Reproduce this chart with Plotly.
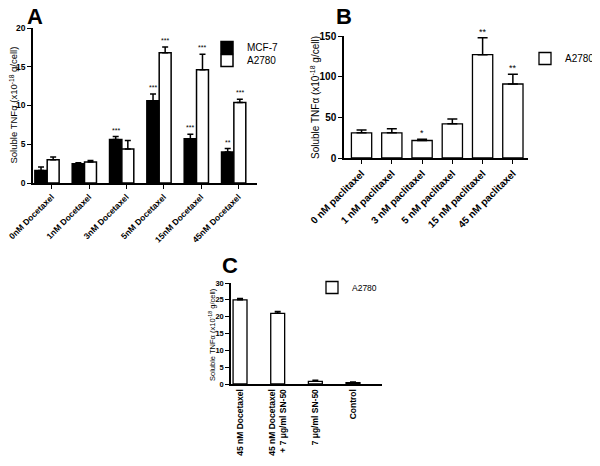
import plotly.graph_objects as go

# Panel A: docetaxel, two cell lines
a_labels = ["0nM Docetaxel", "1nM Docetaxel", "3nM Docetaxel",
            "5nM Docetaxel", "15nM Docetaxel", "45nM Docetaxel"]
mcf7_vals = [1.6, 2.5, 5.6, 10.6, 5.7, 4.0]
mcf7_err = [0.45, 0.1, 0.4, 0.9, 0.6, 0.45]
mcf7_sig = ["", "", "***", "***", "***", "**"]
a2780_a_vals = [3.0, 2.7, 4.4, 16.8, 14.6, 10.4]
a2780_a_err = [0.35, 0.2, 1.1, 0.75, 2.0, 0.4]
a2780_a_sig = ["", "", "", "***", "***", "***"]

# Panel B: paclitaxel, A2780
b_labels = ["0 nM paclitaxel", "1 nM paclitaxel", "3 nM paclitaxel",
            "5 nM paclitaxel", "15 nM paclitaxel", "45 nM paclitaxel"]
b_vals = [31, 31, 21.5, 42, 127, 91]
b_err = [3.5, 5, 1.5, 6, 21, 12]
b_sig = ["", "", "*", "", "**", "**"]

# Panel C: SN-50, A2780
c_labels = ["45 nM Docetaxel", "45 nM Docetaxel<br>+ 7 μg/ml SN-50",
            "7 μg/ml SN-50", "Control"]
c_vals = [25.0, 21.0, 0.8, 0.4]
c_err = [0.4, 0.5, 0.3, 0.2]

FONT = "Arial, Liberation Sans, sans-serif"
# the page body keeps its default 8px margin, so the figure sits at (8, 8)
OFF = 8
W, H = 600 - OFF, 466 - OFF


def px_x(p):
    return (p - OFF) / W


def px_y(p):
    return 1 - (p - OFF) / H


def err_bar(arr, thick, cap):
    return dict(type="data", array=arr, arrayminus=[0] * len(arr), symmetric=False,
                color="black", thickness=thick, width=cap)


fig = go.Figure()

xa = list(range(len(a_labels)))
fig.add_trace(go.Bar(
    x=xa, y=mcf7_vals, name="MCF-7", offset=-0.45, width=0.33,
    marker=dict(color="black", line=dict(color="black", width=1.5)),
    error_y=err_bar(mcf7_err, 1.5, 3), xaxis="x", yaxis="y", legend="legend",
))
fig.add_trace(go.Bar(
    x=xa, y=a2780_a_vals, name="A2780", offset=-0.12, width=0.32,
    marker=dict(color="white", line=dict(color="black", width=1.5)),
    error_y=err_bar(a2780_a_err, 1.5, 3), xaxis="x", yaxis="y", legend="legend4",
))

xb = list(range(len(b_labels)))
fig.add_trace(go.Bar(
    x=xb, y=b_vals, name="A2780", width=0.67,
    marker=dict(color="white", line=dict(color="black", width=1.3)),
    error_y=err_bar(b_err, 1.5, 5), xaxis="x2", yaxis="y2", legend="legend2",
))

xc = list(range(len(c_labels)))
fig.add_trace(go.Bar(
    x=xc, y=c_vals, name="A2780", width=0.37,
    marker=dict(color="white", line=dict(color="black", width=1.3)),
    error_y=err_bar(c_err, 1.5, 3), xaxis="x3", yaxis="y3", legend="legend3",
))

# significance marks
for i, s in enumerate(mcf7_sig):
    if s:
        fig.add_annotation(x=i - 0.285, y=mcf7_vals[i] + mcf7_err[i], text=s,
                           xref="x", yref="y", yanchor="bottom", showarrow=False,
                           font=dict(size=7, family=FONT), yshift=1)
for i, s in enumerate(a2780_a_sig):
    if s:
        fig.add_annotation(x=i + 0.04, y=a2780_a_vals[i] + a2780_a_err[i], text=s,
                           xref="x", yref="y", yanchor="bottom", showarrow=False,
                           font=dict(size=7, family=FONT), yshift=1)
for i, s in enumerate(b_sig):
    if s:
        fig.add_annotation(x=i, y=b_vals[i] + b_err[i], text=s,
                           xref="x2", yref="y2", yanchor="bottom", showarrow=False,
                           font=dict(size=9, family=FONT), yshift=-1)

# panel letters
for letter, x, y in [("A", 35, 17), ("B", 344, 17), ("C", 230, 265)]:
    fig.add_annotation(x=px_x(x), y=px_y(y), text="<b>%s</b>" % letter, xref="paper",
                       yref="paper", xanchor="center", yanchor="middle", showarrow=False,
                       font=dict(size=22, family=FONT))

# y axis titles, placed as rotated text
ytitle = "Soluble TNFα (x10<sup>-18</sup> g/cell)"
for x, y, size in [(13.5, 105, 9.5), (315, 97, 10), (212, 335, 7.5)]:
    fig.add_annotation(x=px_x(x), y=px_y(y), text=ytitle, textangle=-90, xref="paper",
                       yref="paper", xanchor="center", yanchor="middle", showarrow=False,
                       font=dict(size=size, family=FONT))

tick_font = dict(size=8.5, family=FONT, color="black", weight="bold")
b_tick_font = {**tick_font, "size": 10}
axis_common = dict(showline=True, linecolor="black", linewidth=1.5, ticks="outside",
                   ticklen=4, tickwidth=1.2, tickcolor="black", showgrid=False,
                   zeroline=False, automargin=False, ticklabeloverflow="allow",
                   tickfont=tick_font)
leg_common = dict(xanchor="left", yanchor="top", bgcolor="rgba(0,0,0,0)")

fig.update_layout(
    width=W, height=H,
    margin=dict(l=0, r=0, t=0, b=0, autoexpand=False),
    plot_bgcolor="white", paper_bgcolor="white",
    font=dict(family=FONT, color="black"),
    xaxis=dict(domain=[px_x(33), px_x(257)], anchor="y", range=[-0.5, 5.5],
               tickvals=xa, ticktext=a_labels, tickangle=-45, **axis_common),
    yaxis=dict(domain=[px_y(183), px_y(28)], anchor="x", range=[0, 20],
               tickvals=[0, 5, 10, 15, 20], **axis_common),
    xaxis2=dict(domain=[px_x(344), px_x(528)], anchor="y2", range=[-0.58, 5.5],
                tickvals=xb, ticktext=b_labels, tickangle=-45,
                **{**axis_common, "tickfont": b_tick_font}),
    yaxis2=dict(domain=[px_y(158), px_y(36)], anchor="x2", range=[0, 150],
                tickvals=[0, 50, 100, 150], **{**axis_common, "tickfont": b_tick_font}),
    xaxis3=dict(domain=[px_x(231), px_x(382)], anchor="y3", range=[-0.24, 3.77],
                tickvals=xc, ticktext=c_labels, tickangle=-90,
                **{**axis_common, "ticks": "", "tickfont": {**tick_font, "size": 8.5}}),
    yaxis3=dict(domain=[px_y(384), px_y(283)], anchor="x3", range=[0, 30],
                tickvals=[0, 5, 10, 15, 20, 25, 30],
                **{**axis_common, "tickfont": {**tick_font, "size": 7.5}}),
    legend=dict(x=px_x(207), y=px_y(33), font=dict(size=10, family=FONT), **leg_common),
    legend4=dict(x=px_x(207), y=px_y(46), font=dict(size=10, family=FONT), **leg_common),
    legend2=dict(x=1.0, y=px_y(44), xanchor="right", yanchor="top",
                 font=dict(size=10, family=FONT), bgcolor="rgba(0,0,0,0)"),
    legend3=dict(x=px_x(312), y=px_y(273), font=dict(size=8.5, family=FONT), **leg_common),
    showlegend=True,
)

fig.write_html("out.html")
